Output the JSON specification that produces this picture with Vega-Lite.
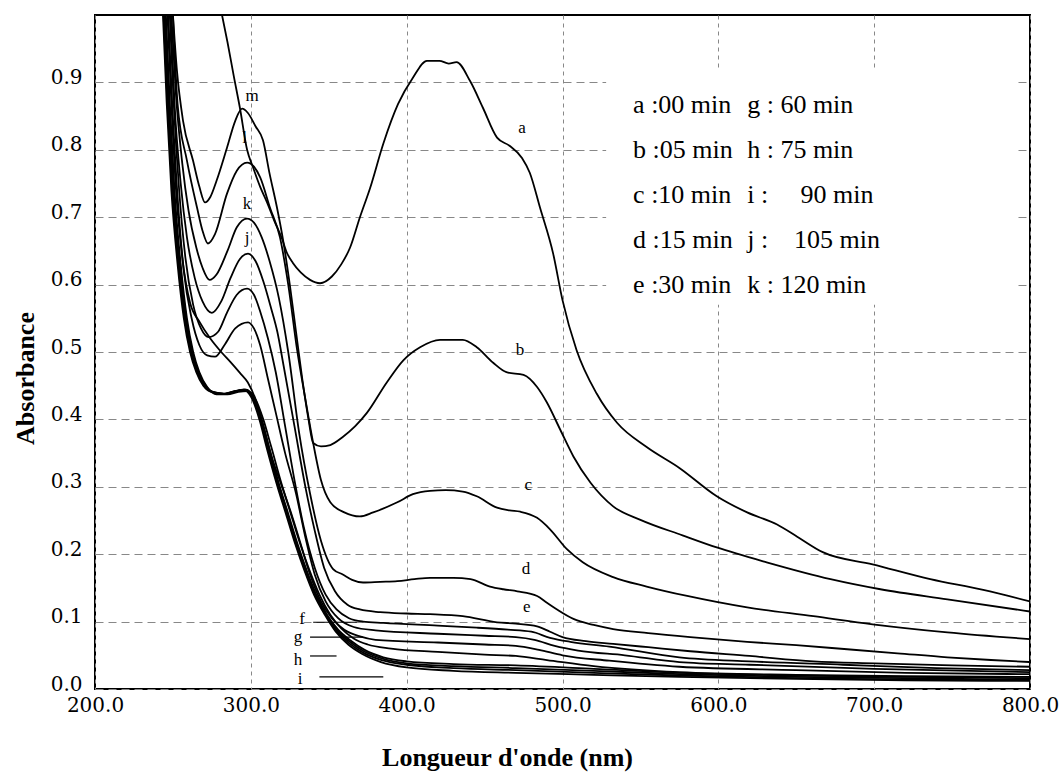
{
"$schema":"https://vega.github.io/schema/vega-lite/v6.json",
"width":935,"height":674,
"autosize":{"type":"none"},
"padding":{"left":95,"top":15,"right":33,"bottom":83},
"background":"white",
"config":{"view":{"stroke":"black","strokeWidth":2}},
"datasets":{
"box":[{"x":528,"x2":790,"y":0.57,"y2":0.92}],
"legend":[
{"x":545.3,"y":0.866,"t":"a :00 min"},{"x":545.3,"y":0.799,"t":"b :05 min"},{"x":545.3,"y":0.733,"t":"c :10 min"},{"x":545.3,"y":0.666,"t":"d :15 min"},{"x":545.3,"y":0.599,"t":"e :30 min"},
{"x":618.5,"y":0.866,"t":"g : 60 min"},{"x":618.5,"y":0.799,"t":"h : 75 min"},{"x":618.5,"y":0.733,"t":"i :\u00a0\u00a0\u00a0\u00a0\u00a090 min"},{"x":618.5,"y":0.666,"t":"j :\u00a0\u00a0\u00a0\u00a0105 min"},{"x":618.5,"y":0.599,"t":"k : 120 min"}],
"labels":[
{"x":474,"y":0.833,"t":"a"},{"x":472.8,"y":0.503,"t":"b"},{"x":478,"y":0.303,"t":"c"},{"x":476.6,"y":0.178,"t":"d"},{"x":477,"y":0.121,"t":"e"},
{"x":300.8,"y":0.880,"t":"m"},{"x":296,"y":0.817,"t":"l"},{"x":297.6,"y":0.72,"t":"k"},{"x":297.6,"y":0.669,"t":"j"},
{"x":332.9,"y":0.104,"t":"f"},{"x":330.3,"y":0.077,"t":"g"},{"x":330.3,"y":0.043,"t":"h"},{"x":331.6,"y":0.015,"t":"i"}],
"leaders":[{"x":340,"x2":368,"y":0.099},{"x":338,"x2":372,"y":0.077},{"x":338,"x2":355,"y":0.049},{"x":344,"x2":385,"y":0.018}],
"curves":[
{"s":"a","x":281.5,"y":1.0},{"s":"a","x":285,"y":0.96},{"s":"a","x":289,"y":0.91},{"s":"a","x":293,"y":0.862},{"s":"a","x":297.6,"y":0.80},{"s":"a","x":301.4,"y":0.774},{"s":"a","x":306,"y":0.745},{"s":"a","x":310.4,"y":0.722},{"s":"a","x":315,"y":0.695},{"s":"a","x":320,"y":0.668},{"s":"a","x":323,"y":0.648},{"s":"a","x":327,"y":0.632},{"s":"a","x":332,"y":0.618},{"s":"a","x":338,"y":0.607},{"s":"a","x":344.4,"y":0.602},{"s":"a","x":352,"y":0.612},{"s":"a","x":358,"y":0.630},{"s":"a","x":363.7,"y":0.655},{"s":"a","x":370,"y":0.70},{"s":"a","x":376.5,"y":0.743},{"s":"a","x":385,"y":0.809},{"s":"a","x":394.5,"y":0.868},{"s":"a","x":404,"y":0.907},{"s":"a","x":413,"y":0.932},{"s":"a","x":421,"y":0.932},{"s":"a","x":427,"y":0.928},{"s":"a","x":432,"y":0.930},{"s":"a","x":440.7,"y":0.902},{"s":"a","x":449,"y":0.862},{"s":"a","x":458,"y":0.818},{"s":"a","x":466,"y":0.806},{"s":"a","x":474,"y":0.788},{"s":"a","x":479,"y":0.766},{"s":"a","x":485.6,"y":0.714},{"s":"a","x":494,"y":0.646},{"s":"a","x":500,"y":0.577},{"s":"a","x":509,"y":0.503},{"s":"a","x":522,"y":0.438},{"s":"a","x":535,"y":0.395},{"s":"a","x":554,"y":0.359},{"s":"a","x":575,"y":0.328},{"s":"a","x":599,"y":0.286},{"s":"a","x":618.5,"y":0.262},{"s":"a","x":637.7,"y":0.244},{"s":"a","x":650.6,"y":0.226},{"s":"a","x":667,"y":0.203},{"s":"a","x":699,"y":0.185},{"s":"a","x":736,"y":0.163},{"s":"a","x":770,"y":0.147},{"s":"a","x":800,"y":0.130},
{"s":"b","x":250,"y":1.0},{"s":"b","x":252.6,"y":0.917},{"s":"b","x":256.5,"y":0.843},{"s":"b","x":262.9,"y":0.784},{"s":"b","x":267,"y":0.745},{"s":"b","x":270.6,"y":0.722},{"s":"b","x":274,"y":0.73},{"s":"b","x":278,"y":0.754},{"s":"b","x":284.7,"y":0.803},{"s":"b","x":290,"y":0.843},{"s":"b","x":294.4,"y":0.861},{"s":"b","x":298,"y":0.855},{"s":"b","x":303,"y":0.835},{"s":"b","x":307.8,"y":0.814},{"s":"b","x":312,"y":0.765},{"s":"b","x":316.8,"y":0.714},{"s":"b","x":320.7,"y":0.666},{"s":"b","x":325,"y":0.60},{"s":"b","x":329,"y":0.53},{"s":"b","x":333,"y":0.46},{"s":"b","x":337,"y":0.40},{"s":"b","x":340,"y":0.365},{"s":"b","x":345,"y":0.36},{"s":"b","x":351,"y":0.362},{"s":"b","x":359,"y":0.374},{"s":"b","x":367,"y":0.39},{"s":"b","x":374.6,"y":0.41},{"s":"b","x":387,"y":0.454},{"s":"b","x":398,"y":0.488},{"s":"b","x":408.6,"y":0.507},{"s":"b","x":421.4,"y":0.518},{"s":"b","x":436,"y":0.518},{"s":"b","x":445,"y":0.507},{"s":"b","x":455.5,"y":0.484},{"s":"b","x":464,"y":0.470},{"s":"b","x":475,"y":0.466},{"s":"b","x":483.7,"y":0.448},{"s":"b","x":490,"y":0.425},{"s":"b","x":498.5,"y":0.385},{"s":"b","x":507,"y":0.345},{"s":"b","x":518,"y":0.306},{"s":"b","x":532.5,"y":0.271},{"s":"b","x":550,"y":0.251},{"s":"b","x":577,"y":0.228},{"s":"b","x":599,"y":0.210},{"s":"b","x":631,"y":0.188},{"s":"b","x":672,"y":0.163},{"s":"b","x":704,"y":0.148},{"s":"b","x":747,"y":0.133},{"s":"b","x":800,"y":0.115},
{"s":"c","x":250,"y":1.0},{"s":"c","x":253,"y":0.868},{"s":"c","x":259,"y":0.784},{"s":"c","x":265.5,"y":0.714},{"s":"c","x":269,"y":0.68},{"s":"c","x":272.5,"y":0.661},{"s":"c","x":277,"y":0.675},{"s":"c","x":284.7,"y":0.735},{"s":"c","x":291,"y":0.769},{"s":"c","x":297.6,"y":0.781},{"s":"c","x":302,"y":0.775},{"s":"c","x":306,"y":0.759},{"s":"c","x":312.3,"y":0.714},{"s":"c","x":318.7,"y":0.670},{"s":"c","x":324,"y":0.60},{"s":"c","x":329.7,"y":0.503},{"s":"c","x":335,"y":0.43},{"s":"c","x":340,"y":0.365},{"s":"c","x":345,"y":0.31},{"s":"c","x":351,"y":0.277},{"s":"c","x":360,"y":0.262},{"s":"c","x":370,"y":0.256},{"s":"c","x":378.5,"y":0.262},{"s":"c","x":394,"y":0.277},{"s":"c","x":404,"y":0.289},{"s":"c","x":415,"y":0.294},{"s":"c","x":425,"y":0.295},{"s":"c","x":436,"y":0.293},{"s":"c","x":445,"y":0.286},{"s":"c","x":458,"y":0.269},{"s":"c","x":466,"y":0.265},{"s":"c","x":473,"y":0.263},{"s":"c","x":483.7,"y":0.254},{"s":"c","x":492,"y":0.237},{"s":"c","x":503,"y":0.207},{"s":"c","x":513,"y":0.188},{"s":"c","x":532.5,"y":0.166},{"s":"c","x":554,"y":0.152},{"s":"c","x":580,"y":0.138},{"s":"c","x":618.5,"y":0.121},{"s":"c","x":661,"y":0.108},{"s":"c","x":699,"y":0.096},{"s":"c","x":747,"y":0.084},{"s":"c","x":800,"y":0.074},
{"s":"d","x":249,"y":1.0},{"s":"d","x":252,"y":0.88},{"s":"d","x":256,"y":0.78},{"s":"d","x":260,"y":0.71},{"s":"d","x":265,"y":0.655},{"s":"d","x":269,"y":0.625},{"s":"d","x":273.5,"y":0.607},{"s":"d","x":278,"y":0.615},{"s":"d","x":285,"y":0.65},{"s":"d","x":291,"y":0.685},{"s":"d","x":297.6,"y":0.698},{"s":"d","x":302,"y":0.692},{"s":"d","x":307,"y":0.67},{"s":"d","x":312,"y":0.635},{"s":"d","x":318,"y":0.58},{"s":"d","x":324,"y":0.50},{"s":"d","x":331,"y":0.38},{"s":"d","x":338,"y":0.29},{"s":"d","x":345,"y":0.22},{"s":"d","x":352.8,"y":0.178},{"s":"d","x":359,"y":0.170},{"s":"d","x":365,"y":0.162},{"s":"d","x":372,"y":0.158},{"s":"d","x":383,"y":0.159},{"s":"d","x":394,"y":0.160},{"s":"d","x":405,"y":0.163},{"s":"d","x":415,"y":0.165},{"s":"d","x":430,"y":0.165},{"s":"d","x":441,"y":0.163},{"s":"d","x":453.5,"y":0.152},{"s":"d","x":462,"y":0.148},{"s":"d","x":471,"y":0.145},{"s":"d","x":483.7,"y":0.138},{"s":"d","x":490,"y":0.128},{"s":"d","x":496.5,"y":0.118},{"s":"d","x":507,"y":0.104},{"s":"d","x":520,"y":0.095},{"s":"d","x":532.5,"y":0.089},{"s":"d","x":555,"y":0.083},{"s":"d","x":582,"y":0.077},{"s":"d","x":618.5,"y":0.070},{"s":"d","x":650,"y":0.065},{"s":"d","x":682.7,"y":0.059},{"s":"d","x":715,"y":0.053},{"s":"d","x":747,"y":0.047},{"s":"d","x":775,"y":0.043},{"s":"d","x":800,"y":0.040},
{"s":"e","x":248.5,"y":1.0},{"s":"e","x":251,"y":0.87},{"s":"e","x":255,"y":0.75},{"s":"e","x":259,"y":0.67},{"s":"e","x":264,"y":0.61},{"s":"e","x":269,"y":0.575},{"s":"e","x":275,"y":0.558},{"s":"e","x":281,"y":0.575},{"s":"e","x":287,"y":0.61},{"s":"e","x":293,"y":0.638},{"s":"e","x":298.2,"y":0.646},{"s":"e","x":303,"y":0.635},{"s":"e","x":308,"y":0.605},{"s":"e","x":313,"y":0.565},{"s":"e","x":317,"y":0.53},{"s":"e","x":321,"y":0.48},{"s":"e","x":328,"y":0.39},{"s":"e","x":335,"y":0.30},{"s":"e","x":341,"y":0.235},{"s":"e","x":347,"y":0.18},{"s":"e","x":354,"y":0.145},{"s":"e","x":362,"y":0.125},{"s":"e","x":370,"y":0.118},{"s":"e","x":383,"y":0.114},{"s":"e","x":400,"y":0.112},{"s":"e","x":415,"y":0.111},{"s":"e","x":436,"y":0.108},{"s":"e","x":458,"y":0.099},{"s":"e","x":470,"y":0.097},{"s":"e","x":483.7,"y":0.093},{"s":"e","x":492,"y":0.085},{"s":"e","x":500,"y":0.077},{"s":"e","x":515,"y":0.071},{"s":"e","x":532.5,"y":0.067},{"s":"e","x":555,"y":0.062},{"s":"e","x":582,"y":0.056},{"s":"e","x":620,"y":0.049},{"s":"e","x":661,"y":0.041},{"s":"e","x":700,"y":0.038},{"s":"e","x":750,"y":0.035},{"s":"e","x":800,"y":0.033},
{"s":"f","x":248,"y":1.0},{"s":"f","x":250.5,"y":0.87},{"s":"f","x":254,"y":0.74},{"s":"f","x":258,"y":0.64},{"s":"f","x":263,"y":0.57},{"s":"f","x":268,"y":0.535},{"s":"f","x":273,"y":0.522},{"s":"f","x":279,"y":0.53},{"s":"f","x":285,"y":0.56},{"s":"f","x":291,"y":0.585},{"s":"f","x":297.6,"y":0.594},{"s":"f","x":302,"y":0.585},{"s":"f","x":306,"y":0.56},{"s":"f","x":311,"y":0.52},{"s":"f","x":316,"y":0.47},{"s":"f","x":322,"y":0.39},{"s":"f","x":328,"y":0.31},{"s":"f","x":334,"y":0.24},{"s":"f","x":341,"y":0.18},{"s":"f","x":348,"y":0.14},{"s":"f","x":355,"y":0.118},{"s":"f","x":363,"y":0.105},{"s":"f","x":372,"y":0.100},{"s":"f","x":385,"y":0.098},{"s":"f","x":420,"y":0.094},{"s":"f","x":445,"y":0.091},{"s":"f","x":465,"y":0.088},{"s":"f","x":480,"y":0.085},{"s":"f","x":492,"y":0.076},{"s":"f","x":505,"y":0.070},{"s":"f","x":530,"y":0.063},{"s":"f","x":575,"y":0.047},{"s":"f","x":620,"y":0.041},{"s":"f","x":680,"y":0.036},{"s":"f","x":740,"y":0.031},{"s":"f","x":800,"y":0.028},
{"s":"g","x":247,"y":1.0},{"s":"g","x":249.5,"y":0.87},{"s":"g","x":253,"y":0.73},{"s":"g","x":257,"y":0.62},{"s":"g","x":262,"y":0.55},{"s":"g","x":267,"y":0.51},{"s":"g","x":272,"y":0.495},{"s":"g","x":277,"y":0.493},{"s":"g","x":283,"y":0.51},{"s":"g","x":290,"y":0.535},{"s":"g","x":298.2,"y":0.544},{"s":"g","x":302,"y":0.535},{"s":"g","x":306,"y":0.51},{"s":"g","x":311,"y":0.46},{"s":"g","x":316,"y":0.41},{"s":"g","x":322,"y":0.35},{"s":"g","x":329,"y":0.29},{"s":"g","x":335,"y":0.225},{"s":"g","x":341,"y":0.17},{"s":"g","x":348,"y":0.13},{"s":"g","x":356,"y":0.105},{"s":"g","x":366,"y":0.092},{"s":"g","x":380,"y":0.087},{"s":"g","x":420,"y":0.082},{"s":"g","x":450,"y":0.079},{"s":"g","x":470,"y":0.077},{"s":"g","x":482,"y":0.073},{"s":"g","x":495,"y":0.064},{"s":"g","x":510,"y":0.057},{"s":"g","x":540,"y":0.050},{"s":"g","x":575,"y":0.040},{"s":"g","x":620,"y":0.036},{"s":"g","x":700,"y":0.030},{"s":"g","x":800,"y":0.025},
{"s":"h","x":246.5,"y":1.0},{"s":"h","x":249,"y":0.87},{"s":"h","x":252,"y":0.74},{"s":"h","x":256,"y":0.64},{"s":"h","x":261,"y":0.573},{"s":"h","x":267,"y":0.545},{"s":"h","x":274,"y":0.52},{"s":"h","x":281,"y":0.50},{"s":"h","x":287,"y":0.485},{"s":"h","x":293,"y":0.469},{"s":"h","x":298,"y":0.455},{"s":"h","x":303,"y":0.43},{"s":"h","x":308,"y":0.39},{"s":"h","x":314,"y":0.34},{"s":"h","x":320,"y":0.30},{"s":"h","x":326,"y":0.26},{"s":"h","x":332,"y":0.215},{"s":"h","x":338,"y":0.17},{"s":"h","x":345,"y":0.13},{"s":"h","x":352,"y":0.105},{"s":"h","x":360,"y":0.088},{"s":"h","x":370,"y":0.078},{"s":"h","x":380,"y":0.073},{"s":"h","x":420,"y":0.069},{"s":"h","x":450,"y":0.066},{"s":"h","x":470,"y":0.064},{"s":"h","x":485,"y":0.058},{"s":"h","x":500,"y":0.050},{"s":"h","x":530,"y":0.042},{"s":"h","x":575,"y":0.033},{"s":"h","x":650,"y":0.028},{"s":"h","x":720,"y":0.024},{"s":"h","x":800,"y":0.022},
{"s":"i","x":245.5,"y":1.0},{"s":"i","x":248,"y":0.87},{"s":"i","x":251,"y":0.74},{"s":"i","x":255,"y":0.63},{"s":"i","x":259,"y":0.55},{"s":"i","x":263,"y":0.50},{"s":"i","x":267,"y":0.47},{"s":"i","x":272,"y":0.448},{"s":"i","x":278,"y":0.437},{"s":"i","x":285,"y":0.437},{"s":"i","x":292,"y":0.441},{"s":"i","x":298,"y":0.442},{"s":"i","x":303,"y":0.43},{"s":"i","x":308,"y":0.40},{"s":"i","x":313,"y":0.36},{"s":"i","x":319,"y":0.31},{"s":"i","x":325,"y":0.265},{"s":"i","x":331,"y":0.22},{"s":"i","x":337,"y":0.18},{"s":"i","x":344,"y":0.14},{"s":"i","x":351,"y":0.11},{"s":"i","x":358,"y":0.09},{"s":"i","x":366,"y":0.075},{"s":"i","x":375,"y":0.066},{"s":"i","x":390,"y":0.060},{"s":"i","x":420,"y":0.055},{"s":"i","x":450,"y":0.051},{"s":"i","x":470,"y":0.049},{"s":"i","x":490,"y":0.043},{"s":"i","x":520,"y":0.034},{"s":"i","x":575,"y":0.025},{"s":"i","x":650,"y":0.021},{"s":"i","x":720,"y":0.019},{"s":"i","x":800,"y":0.018},
{"s":"j","x":245,"y":1.0},{"s":"j","x":247.5,"y":0.87},{"s":"j","x":250.5,"y":0.74},{"s":"j","x":254.5,"y":0.63},{"s":"j","x":258.5,"y":0.55},{"s":"j","x":262.5,"y":0.50},{"s":"j","x":266.5,"y":0.47},{"s":"j","x":271,"y":0.45},{"s":"j","x":277,"y":0.44},{"s":"j","x":284,"y":0.438},{"s":"j","x":291,"y":0.442},{"s":"j","x":297,"y":0.444},{"s":"j","x":302,"y":0.432},{"s":"j","x":307,"y":0.40},{"s":"j","x":312,"y":0.355},{"s":"j","x":318,"y":0.305},{"s":"j","x":324,"y":0.26},{"s":"j","x":330,"y":0.215},{"s":"j","x":336,"y":0.175},{"s":"j","x":342,"y":0.14},{"s":"j","x":349,"y":0.11},{"s":"j","x":356,"y":0.088},{"s":"j","x":364,"y":0.072},{"s":"j","x":373,"y":0.058},{"s":"j","x":385,"y":0.047},{"s":"j","x":400,"y":0.041},{"s":"j","x":430,"y":0.037},{"s":"j","x":470,"y":0.035},{"s":"j","x":520,"y":0.030},{"s":"j","x":575,"y":0.024},{"s":"j","x":650,"y":0.020},{"s":"j","x":720,"y":0.018},{"s":"j","x":800,"y":0.016},
{"s":"k","x":244.5,"y":1.0},{"s":"k","x":247,"y":0.87},{"s":"k","x":250,"y":0.74},{"s":"k","x":254,"y":0.63},{"s":"k","x":258,"y":0.55},{"s":"k","x":262,"y":0.50},{"s":"k","x":266,"y":0.47},{"s":"k","x":270.5,"y":0.45},{"s":"k","x":276.5,"y":0.44},{"s":"k","x":283.5,"y":0.438},{"s":"k","x":290.5,"y":0.442},{"s":"k","x":296.5,"y":0.444},{"s":"k","x":301.5,"y":0.432},{"s":"k","x":306.5,"y":0.40},{"s":"k","x":311.5,"y":0.355},{"s":"k","x":317.5,"y":0.305},{"s":"k","x":323.5,"y":0.26},{"s":"k","x":329.5,"y":0.215},{"s":"k","x":335.5,"y":0.175},{"s":"k","x":341.5,"y":0.14},{"s":"k","x":348.5,"y":0.11},{"s":"k","x":355.5,"y":0.087},{"s":"k","x":363.5,"y":0.070},{"s":"k","x":372.5,"y":0.056},{"s":"k","x":384.5,"y":0.045},{"s":"k","x":400,"y":0.038},{"s":"k","x":430,"y":0.034},{"s":"k","x":470,"y":0.031},{"s":"k","x":520,"y":0.027},{"s":"k","x":575,"y":0.022},{"s":"k","x":650,"y":0.018},{"s":"k","x":720,"y":0.016},{"s":"k","x":800,"y":0.014},
{"s":"l","x":244,"y":1.0},{"s":"l","x":246.5,"y":0.87},{"s":"l","x":249.5,"y":0.74},{"s":"l","x":253.5,"y":0.63},{"s":"l","x":257.5,"y":0.55},{"s":"l","x":261.5,"y":0.50},{"s":"l","x":265.5,"y":0.47},{"s":"l","x":270,"y":0.45},{"s":"l","x":276,"y":0.44},{"s":"l","x":283,"y":0.438},{"s":"l","x":290,"y":0.442},{"s":"l","x":296,"y":0.444},{"s":"l","x":301,"y":0.432},{"s":"l","x":306,"y":0.40},{"s":"l","x":311,"y":0.355},{"s":"l","x":317,"y":0.305},{"s":"l","x":323,"y":0.26},{"s":"l","x":329,"y":0.215},{"s":"l","x":335,"y":0.175},{"s":"l","x":341,"y":0.14},{"s":"l","x":348,"y":0.11},{"s":"l","x":355,"y":0.086},{"s":"l","x":363,"y":0.068},{"s":"l","x":372,"y":0.054},{"s":"l","x":384,"y":0.043},{"s":"l","x":400,"y":0.036},{"s":"l","x":430,"y":0.031},{"s":"l","x":470,"y":0.028},{"s":"l","x":520,"y":0.024},{"s":"l","x":575,"y":0.020},{"s":"l","x":650,"y":0.016},{"s":"l","x":720,"y":0.014},{"s":"l","x":800,"y":0.013},
{"s":"m","x":243.6,"y":1.0},{"s":"m","x":246,"y":0.87},{"s":"m","x":249,"y":0.74},{"s":"m","x":253,"y":0.63},{"s":"m","x":257,"y":0.55},{"s":"m","x":261,"y":0.50},{"s":"m","x":265,"y":0.47},{"s":"m","x":269.5,"y":0.45},{"s":"m","x":275.5,"y":0.44},{"s":"m","x":282.5,"y":0.438},{"s":"m","x":289.5,"y":0.442},{"s":"m","x":295.5,"y":0.444},{"s":"m","x":300.5,"y":0.432},{"s":"m","x":305.5,"y":0.40},{"s":"m","x":310.5,"y":0.355},{"s":"m","x":316.5,"y":0.305},{"s":"m","x":322.5,"y":0.26},{"s":"m","x":328.5,"y":0.215},{"s":"m","x":334.5,"y":0.175},{"s":"m","x":340.5,"y":0.14},{"s":"m","x":347.5,"y":0.11},{"s":"m","x":354.5,"y":0.085},{"s":"m","x":362.5,"y":0.066},{"s":"m","x":371.5,"y":0.052},{"s":"m","x":383.5,"y":0.040},{"s":"m","x":400,"y":0.032},{"s":"m","x":430,"y":0.027},{"s":"m","x":470,"y":0.024},{"s":"m","x":520,"y":0.021},{"s":"m","x":575,"y":0.018},{"s":"m","x":650,"y":0.015},{"s":"m","x":720,"y":0.013},{"s":"m","x":800,"y":0.012}
]},
"layer":[
{"data":{"name":"box"},"mark":{"type":"rect","fill":"white","strokeWidth":0},
"encoding":{
"x":{"field":"x","type":"quantitative","scale":{"domain":[200,800],"nice":false,"zero":false},
"axis":{"values":[200,300,400,500,600,700,800],"format":".1f","labelFont":"DejaVu Serif","labelFontSize":20,"labelColor":"black","ticks":false,"domain":false,"grid":true,"gridDash":[4,4],"gridColor":"#888888","gridWidth":1,"labelPadding":6,"labelFlush":false,"labelOverlap":false,"labelBound":false,
"title":"Longueur d'onde (nm)","titleFont":"Liberation Serif","titleFontSize":26,"titleFontWeight":"bold","titleColor":"black","titleX":412,"titleY":76,"titleBaseline":"alphabetic","titleAlign":"center"}},
"x2":{"field":"x2"},
"y":{"field":"y","type":"quantitative","scale":{"domain":[0,1],"nice":false},
"axis":{"values":[0,0.1,0.2,0.3,0.4,0.5,0.6,0.7,0.8,0.9],"format":".1f","labelFont":"DejaVu Serif","labelFontSize":20,"labelColor":"black","ticks":false,"domain":false,"grid":true,"gridDash":[8,5],"gridColor":"#888888","gridWidth":1,"labelPadding":13,"labelOffset":-5,"labelOverlap":false,"labelBound":false,
"title":"Absorbance","titleFont":"Liberation Serif","titleFontSize":26,"titleFontWeight":"bold","titleColor":"black","titleX":-62,"titleY":363,"titleAngle":270,"titleBaseline":"alphabetic","titleAlign":"center"}},
"y2":{"field":"y2"}}},
{"data":{"name":"curves"},"mark":{"type":"line","color":"black","strokeWidth":1.8,"interpolate":"monotone","clip":true},
"encoding":{"x":{"field":"x","type":"quantitative"},"y":{"field":"y","type":"quantitative"},"detail":{"field":"s"}}},
{"data":{"name":"leaders"},"mark":{"type":"rule","color":"black","strokeWidth":1.2},
"encoding":{"x":{"field":"x","type":"quantitative"},"x2":{"field":"x2"},"y":{"field":"y","type":"quantitative"}}},
{"data":{"name":"labels"},"mark":{"type":"text","font":"Liberation Serif","color":"black","fontSize":17,"align":"center","baseline":"middle"},
"encoding":{"x":{"field":"x","type":"quantitative"},"y":{"field":"y","type":"quantitative"},"text":{"field":"t"}}},
{"data":{"name":"legend"},"mark":{"type":"text","font":"Liberation Serif","color":"black","fontSize":26,"align":"left","baseline":"middle"},
"encoding":{"x":{"field":"x","type":"quantitative"},"y":{"field":"y","type":"quantitative"},"text":{"field":"t"}}}
]
}
